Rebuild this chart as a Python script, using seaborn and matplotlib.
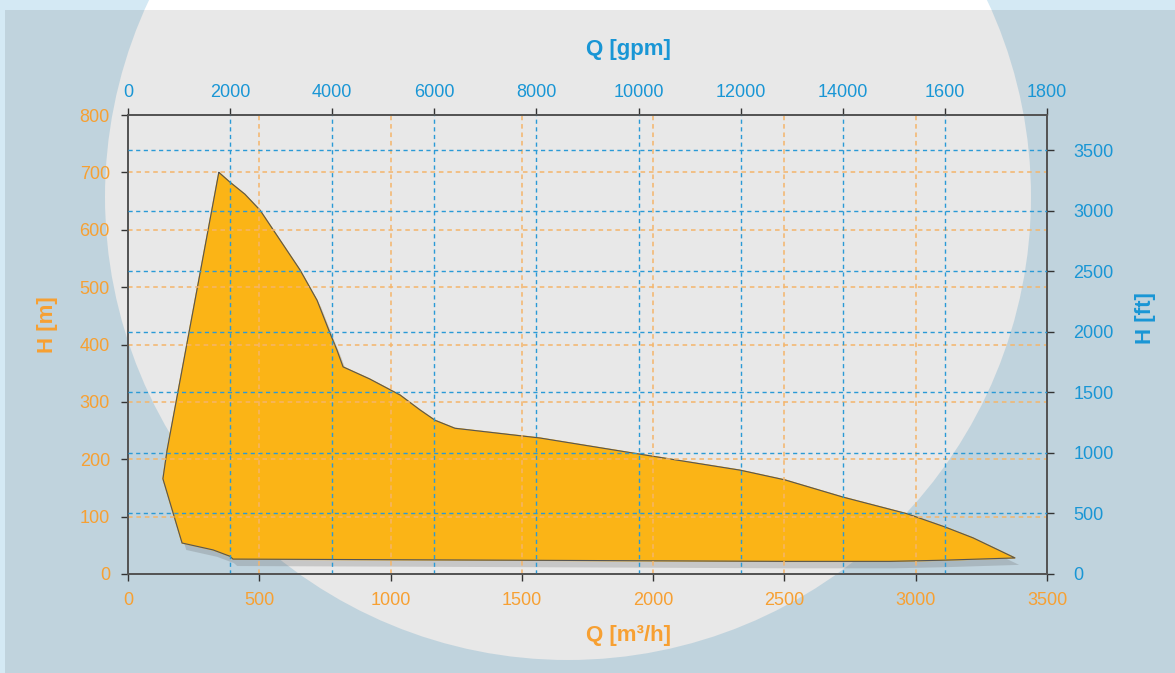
import matplotlib
matplotlib.use('Agg')
import matplotlib.pyplot as plt
import matplotlib.patches as mpatches
import matplotlib.patheffects as pe
import seaborn as sns
import pandas as pd

# Einsatzbereich der Pumpe (Umriss des Kennfelds), Q in m3/h, H in m
q_m3h = [346, 388, 445, 503, 579, 655, 720, 769, 796, 819, 920, 1036, 1112, 1169,
         1245, 1569, 1988, 2331, 2502, 2723, 2967, 3111, 3218, 3378, 3100, 2900,
         2500, 1500, 400, 388, 324, 206, 133, 149, 346]
h_m = [700, 683, 662, 634, 582, 530, 477, 420, 390, 361, 340, 312, 286, 268,
       254, 237, 206, 181, 164, 134, 105, 82, 63, 28, 24, 22,
       22, 24, 26, 31, 42, 54, 166, 216, 700]

x_ticks = [0, 500, 1000, 1500, 2000, 2500, 3000, 3500]
y_ticks = [0, 100, 200, 300, 400, 500, 600, 700, 800]
gpm_ticks = [0, 2000, 4000, 6000, 8000, 10000, 12000, 14000, 16000, 18000]
gpm_labels = ['0', '2000', '4000', '6000', '8000', '10000', '12000', '14000', '1600', '1800']
ft_ticks = [0, 500, 1000, 1500, 2000, 2500, 3000, 3500]
ft_max = 3790

orange = '#f7a032'
orange_grid = '#f5b56a'
blue = '#1996d5'
blue_grid = '#2a9ad6'
fill_col = '#fbb416'

df = pd.DataFrame({'Q': q_m3h, 'H': h_m})

sns.set_theme(style='white')
plt.rcParams['font.family'] = ['Liberation Sans', 'DejaVu Sans']

fig = plt.figure(figsize=(11.75, 6.73), dpi=100)
fig.patch.set_facecolor('#d4e9f4')

# Hintergrund: weisser Kreis + abgedunkeltes Panel
fig.add_artist(mpatches.Ellipse((568 / 1175, 476 / 673), 2 * 463 / 1175, 2 * 463 / 673,
                                transform=fig.transFigure, facecolor='white',
                                edgecolor='none', zorder=-10))
fig.add_artist(mpatches.Rectangle((5 / 1175, 0), 1, 663 / 673, transform=fig.transFigure,
                                  facecolor='black', alpha=0.09, edgecolor='none', zorder=-9))

ax = fig.add_axes([128 / 1175, 99 / 673, 919 / 1175, 459 / 673])
ax.set_facecolor('none')

poly = ax.fill(df['Q'], df['H'], color=fill_col, zorder=1)[0]
poly.set_path_effects([pe.SimplePatchShadow(offset=(3, -5), shadow_rgbFace='#666666', alpha=0.25),
                       pe.Normal()])
sns.lineplot(data=df, x='Q', y='H', sort=False, estimator=None, color='#555555',
             linewidth=0.8, ax=ax, zorder=2)

ax.set_xlim(0, 3500)
ax.set_ylim(0, 800)
ax.set_xticks(x_ticks)
ax.set_yticks(y_ticks)
ax.set_xlabel('')
ax.set_ylabel('')
for v in x_ticks[1:-1]:
    ax.axvline(v, color=orange_grid, linestyle=(0, (3, 2.5)), linewidth=1.1, zorder=3)
for v in y_ticks[1:-1]:
    ax.axhline(v, color=orange_grid, linestyle=(0, (3, 2.5)), linewidth=1.1, zorder=3)
ax.tick_params(axis='both', colors='#333333', labelcolor=orange, labelsize=13,
               direction='out', length=5, width=1, pad=8, left=True, bottom=True)

ax_top = ax.twiny()
ax_top.set_xlim(0, 18000)
ax_top.set_xticks(gpm_ticks)
ax_top.set_xticklabels(gpm_labels)
for v in gpm_ticks[1:-1]:
    ax_top.axvline(v, color=blue_grid, linestyle=(0, (3, 2.5)), linewidth=1.0, zorder=3)
ax_top.tick_params(axis='x', colors='#333333', labelcolor=blue, labelsize=13,
                   direction='out', length=5, width=1, pad=5, top=True)

ax_right = ax.twinx()
ax_right.set_ylim(0, ft_max)
ax_right.set_yticks(ft_ticks)
for v in ft_ticks[1:]:
    ax_right.axhline(v, color=blue_grid, linestyle=(0, (3, 2.5)), linewidth=1.0, zorder=3)
ax_right.tick_params(axis='y', colors='#333333', labelcolor=blue, labelsize=13,
                     direction='out', length=5, width=1, pad=14, right=True)

for a in (ax, ax_top, ax_right):
    a.set_facecolor('none')
    for s in a.spines.values():
        s.set_color('#555555')
        s.set_linewidth(1.2)
        s.set_visible(True)

fig.text(628 / 1175, 1 - 50 / 673, 'Q [gpm]', color=blue, fontsize=16, fontweight='bold',
         ha='center', va='center')
fig.text(628 / 1175, 1 - 636 / 673, 'Q [m³/h]', color=orange, fontsize=16, fontweight='bold',
         ha='center', va='center')
fig.text(47 / 1175, 1 - 325 / 673, 'H [m]', color=orange, fontsize=16, fontweight='bold',
         ha='center', va='center', rotation=90)
fig.text(1145 / 1175, 1 - 318 / 673, 'H [ft]', color=blue, fontsize=16, fontweight='bold',
         ha='center', va='center', rotation=90)

fig.savefig('out.png', dpi=100, facecolor=fig.get_facecolor())
